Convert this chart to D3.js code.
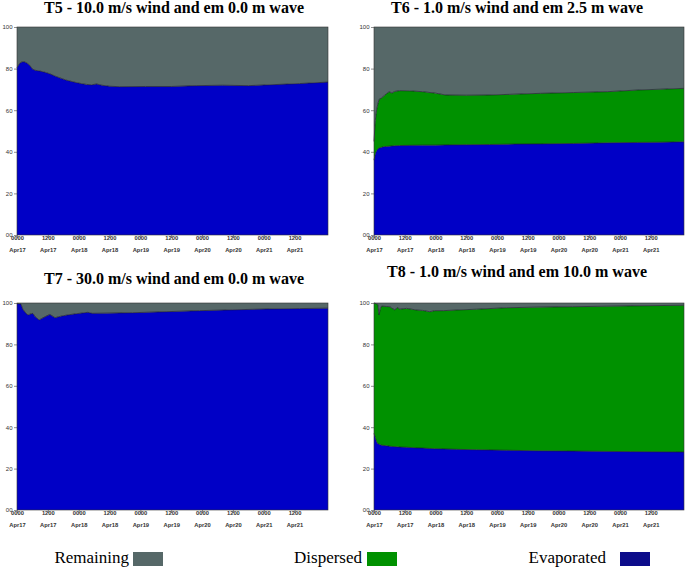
<!DOCTYPE html>
<html>
<head>
<meta charset="utf-8">
<script src="https://cdn.jsdelivr.net/npm/d3@7"></script>
<style>
  body { margin: 0; background: #fff; }
  .axis text { font-family: "Liberation Sans", Arial, sans-serif; fill: #333; }
  .axis path, .axis line { stroke: #444; stroke-width: 0.6; }
</style>
</head>
<body>
<svg id="chart" width="685" height="568"></svg>
<script>
// legend / series names
const seriesNames = ["Remaining", "Dispersed", "Evaporated"]
const seriesColors = { Remaining: "#566868", Dispersed: "#009100", Evaporated: "#0000c6" }
const legendColors = { Remaining: "#566868", Dispersed: "#009100", Evaporated: "#0c0c8a" }

// x ticks: hours after 0000 Apr17
const majorHours = [0, 12, 24, 36, 48, 60, 72, 84, 96, 108]
const tickTimes = ["0000", "1200", "0000", "1200", "0000", "1200", "0000", "1200", "0000", "1200"]
const tickDays = ["Apr17", "Apr17", "Apr18", "Apr18", "Apr19", "Apr19", "Apr20", "Apr20", "Apr21", "Apr21"]
const yTicks = [0, 20, 40, 60, 80, 100]
const yTickLabels = ["00", "20", "40", "60", "80", "100"]

// T5 - 10 m/s wind, 0 m wave (no dispersion)
const hoursT5 = [0, 1, 2, 3, 4, 5, 6, 7, 9, 11, 13, 15, 17, 19, 21, 23, 25, 27, 29, 31, 33, 36, 40, 50, 60, 70, 80, 90, 100, 110, 121]
const evapT5 = [80.5, 82.5, 83.3, 83.2, 82.6, 81.5, 79.8, 79.2, 78.8, 78.2, 77.4, 76.3, 75.4, 74.5, 73.9, 73.3, 72.8, 72.4, 72.2, 72.6, 72.0, 71.5, 71.3, 71.4, 71.4, 71.8, 72.0, 71.8, 72.3, 72.8, 73.5]

// T6 - 1 m/s wind, 2.5 m wave
const hoursT6 = [0, 0.5, 1, 1.5, 2, 3, 4, 5, 6, 7, 8, 10, 14, 19, 24, 28, 36, 45, 55, 65, 78, 91, 103, 112, 121]
const evapT6 = [36, 39, 40.5, 41.3, 41.8, 42.2, 42.5, 42.6, 42.7, 42.8, 42.9, 43, 43.1, 43.2, 43.2, 43.3, 43.4, 43.5, 43.7, 43.8, 44.0, 44.3, 44.5, 44.6, 44.8]
const dispT6 = [9, 16, 19.5, 21.7, 23.4, 23.8, 24.5, 25.5, 26.2, 25.4, 26.1, 26.4, 26.2, 25.7, 25, 24, 23.8, 23.8, 24, 24.3, 24.5, 24.6, 25.2, 25.5, 25.7]

// T7 - 30 m/s wind, 0 m wave (no dispersion)
const hoursT7 = [0, 1.5, 2.3, 3.5, 4.3, 5, 6.2, 7, 8.6, 10.9, 12.8, 14.8, 17, 19.5, 23, 27.6, 29.2, 35, 45, 58, 71, 84, 97, 110, 121]
const evapT7 = [99.8, 99.5, 97, 95, 94.2, 94.6, 95, 93.5, 91.8, 93.4, 94.5, 92.9, 93.6, 94.2, 94.8, 95.5, 95, 95.1, 95.3, 95.8, 96.3, 96.7, 97.1, 97.3, 97.5]

// T8 - 1 m/s wind, 10 m wave
const hoursT8 = [0, 1, 1.5, 2, 2.5, 3, 5, 6.2, 7, 8.2, 9, 10.1, 12.7, 16.6, 19, 21.8, 23.7, 27, 32.2, 40, 51.6, 64, 77.4, 100, 121]
const evapT8 = [37, 33, 32, 31.8, 31.5, 31.3, 31, 30.8, 30.7, 30.6, 30.5, 30.4, 30.3, 30, 29.9, 29.7, 29.6, 29.5, 29.3, 29.1, 28.85, 28.6, 28.45, 28.2, 28.0]
const dispT8 = [63, 66.6, 67.3, 62.4, 66, 67.2, 67.3, 67.4, 66.8, 66, 67.4, 66.6, 67.1, 66.6, 66.5, 66.1, 66.7, 66.8, 67.3, 67.9, 68.85, 69.4, 69.75, 70.4, 70.9]

const panels = [
  { title: "T5 - 10.0 m/s wind and em 0.0 m wave", hours: hoursT5, evap: evapT5, disp: null,
    left: 17, right: 328, top: 27, bottom: 235, titleX: 174, titleY: 13 },
  { title: "T6 - 1.0 m/s wind and em 2.5 m wave", hours: hoursT6, evap: evapT6, disp: dispT6,
    left: 374, right: 684, top: 27, bottom: 235, titleX: 517, titleY: 13 },
  { title: "T7 - 30.0 m/s wind and em 0.0 m wave", hours: hoursT7, evap: evapT7, disp: null,
    left: 17, right: 328, top: 303, bottom: 510, titleX: 174, titleY: 284 },
  { title: "T8 - 1.0 m/s wind and em 10.0 m wave", hours: hoursT8, evap: evapT8, disp: dispT8,
    left: 374, right: 684, top: 303, bottom: 510, titleX: 517, titleY: 277 }
]

const svg = d3.select("#chart")

function drawPanel(p) {
  const x = d3.scaleLinear().domain([0, 121]).range([p.left, p.right])
  const y = d3.scaleLinear().domain([0, 100]).range([p.bottom, p.top])

  // rows: evaporated on the bottom, dispersed next, remaining on top
  const rows = p.hours.map((h, i) => {
    const e = p.evap[i]
    const d = p.disp ? p.disp[i] : 0
    return { h: h, Evaporated: e, Dispersed: d, Remaining: 100 - e - d }
  })
  const stack = d3.stack().keys(["Evaporated", "Dispersed", "Remaining"])(rows)

  const area = d3.area()
    .x(d => x(d.data.h))
    .y0(d => y(d[0]))
    .y1(d => y(d[1]))

  const g = svg.append("g")

  g.selectAll("path.layer")
    .data(stack)
    .join("path")
    .attr("class", "layer")
    .attr("fill", s => seriesColors[s.key])
    .attr("d", area)

  // dark boundary lines on top of each lower layer
  const line = d3.line().x(d => x(d.data.h)).y(d => y(d[1]))
  g.selectAll("path.edge")
    .data(p.disp ? stack.slice(0, 2) : stack.slice(0, 1))
    .join("path")
    .attr("class", "edge")
    .attr("fill", "none")
    .attr("stroke", "#1a1a2a")
    .attr("stroke-width", 0.7)
    .attr("d", line)

  g.append("rect")
    .attr("x", p.left).attr("y", p.top)
    .attr("width", p.right - p.left).attr("height", p.bottom - p.top)
    .attr("fill", "none").attr("stroke", "#333").attr("stroke-width", 0.6)

  // y axis
  const ya = g.append("g").attr("class", "axis")
    .attr("transform", "translate(" + p.left + ",0)")
  ya.call(d3.axisLeft(y).tickValues(d3.range(0, 101, 4)).tickSize(2).tickFormat(""))
  ya.call(d3.axisLeft(y).tickValues(yTicks).tickSize(3).tickPadding(1.5)
    .tickFormat((d, i) => yTickLabels[i]))
  ya.selectAll("text").style("font-size", "6px")
  ya.select(".domain").remove()

  // x axis
  const xa = g.append("g").attr("class", "axis")
    .attr("transform", "translate(0," + p.bottom + ")")
  xa.call(d3.axisTop(x).tickValues(d3.range(0, 121, 3)).tickSize(1.5).tickFormat(""))
  xa.select(".domain").remove()
  xa.call(d3.axisBottom(x).tickValues(majorHours).tickSize(3).tickPadding(1.5)
    .tickFormat((d, i) => tickTimes[i]))
  xa.selectAll(".domain").remove()
  xa.selectAll(".tick text")
    .style("font-size", "5.8px").style("font-weight", "bold")
  xa.selectAll(".tick")
    .filter(d => majorHours.includes(d))
    .append("text")
    .attr("y", 17)
    .attr("fill", "#333")
    .style("font-size", "5.8px").style("font-weight", "bold")
    .attr("text-anchor", "middle")
    .text(d => tickDays[majorHours.indexOf(d)])

  svg.append("text")
    .attr("x", p.titleX).attr("y", p.titleY)
    .attr("text-anchor", "middle")
    .style("font-family", "'Liberation Serif', 'Times New Roman', serif")
    .style("font-weight", "bold")
    .style("font-size", "16px")
    .text(p.title)
}

panels.forEach(drawPanel)

// legend
const legendItems = [
  { name: "Remaining", textRight: 129, box: 133 },
  { name: "Dispersed", textRight: 362, box: 367 },
  { name: "Evaporated", textRight: 606, box: 620 }
]
const lg = svg.append("g")
lg.selectAll("text")
  .data(legendItems)
  .join("text")
  .attr("x", d => d.textRight)
  .attr("y", 563)
  .attr("text-anchor", "end")
  .style("font-family", "'Liberation Serif', 'Times New Roman', serif")
  .style("font-size", "17px")
  .text(d => d.name)
lg.selectAll("rect")
  .data(legendItems)
  .join("rect")
  .attr("x", d => d.box)
  .attr("y", 552)
  .attr("width", 30)
  .attr("height", 14)
  .attr("fill", d => legendColors[d.name])
</script>
</body>
</html>
